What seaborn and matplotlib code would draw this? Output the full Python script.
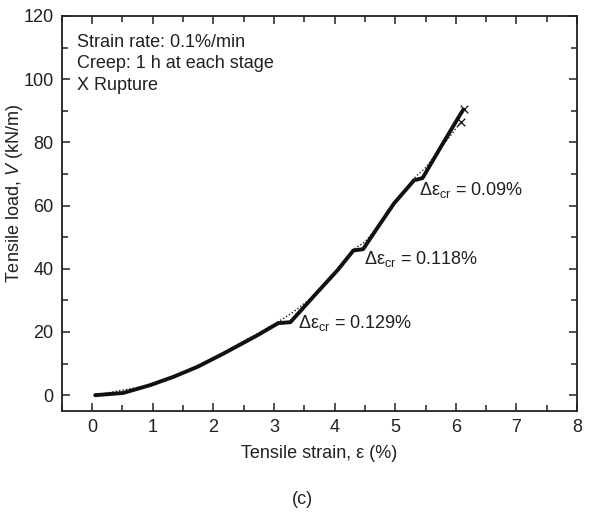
import matplotlib
matplotlib.use("Agg")
import matplotlib.pyplot as plt
import seaborn as sns
import pandas as pd

# Test with creep stages (solid)
strain_a = [0.05, 0.51, 0.96, 1.34, 1.74, 2.17, 2.73, 3.07, 3.27, 3.65, 4.05, 4.31,
            4.47, 4.76, 4.98, 5.31, 5.45, 5.75, 6.03, 6.12]
load_a = [0.0, 0.7, 3.2, 5.8, 9.0, 13.2, 19.0, 22.8, 23.1, 31.2, 39.6, 45.8,
          46.2, 54.5, 60.7, 68.0, 68.7, 78.5, 87.5, 90.3]
# Companion test (dotted)
strain_b = [0.05, 0.96, 1.74, 2.73, 3.0, 3.15, 3.31, 3.7, 4.1, 4.3, 4.5, 4.8, 5.3,
            5.5, 5.8, 5.89, 6.08]
load_b = [0.0, 3.2, 9.0, 19.5, 22.5, 24.2, 26.2, 32.0, 40.8, 46.0, 48.5, 55.5,
          68.5, 72.0, 79.5, 81.6, 86.4]
# Rupture points
rupture_strain = [6.13, 6.08]
rupture_load = [90.5, 86.4]
# Creep annotations
creep_labels = ["0.129%", "0.118%", "0.09%"]
creep_x = [3.39, 4.48, 5.40]
creep_y = [22.8, 43.0, 64.9]

sns.set_theme(style="ticks")
plt.rcParams["font.family"] = ["Liberation Sans", "DejaVu Sans"]
plt.rcParams["mathtext.fontset"] = "custom"
plt.rcParams["mathtext.rm"] = "Liberation Sans"
plt.rcParams["mathtext.it"] = "Liberation Sans:italic"
ink = "#231f20"
fs = 13

fig = plt.figure(figsize=(6.12, 5.16), dpi=100)
ax = fig.add_axes([0.101, 0.2035, 0.842, 0.7655])

df_a = pd.DataFrame({"strain": strain_a, "load": load_a})
df_b = pd.DataFrame({"strain": strain_b, "load": load_b})
sns.lineplot(data=df_b, x="strain", y="load", ax=ax, color=ink, lw=1.0,
             linestyle=(0, (1, 1.5)), sort=False, estimator=None)
sns.lineplot(data=df_a, x="strain", y="load", ax=ax, color="#111111", lw=2.8,
             sort=False, estimator=None)
df_r = pd.DataFrame({"strain": rupture_strain, "load": rupture_load})
sns.scatterplot(data=df_r, x="strain", y="load", ax=ax, marker="x", color=ink,
                s=30, linewidth=1.0)

for lab, xx, yy in zip(creep_labels, creep_x, creep_y):
    ax.text(xx, yy, "Δε$_{\\mathrm{cr}}$ = " + lab, ha="left", va="center",
            fontsize=fs, color=ink)

for txt, yy in zip(["Strain rate: 0.1%/min", "Creep: 1 h at each stage", "X Rupture"],
                   [0.934, 0.881, 0.823]):
    ax.text(0.029, yy, txt, transform=ax.transAxes, ha="left", va="center",
            fontsize=fs, color=ink)

ax.set_xlim(-0.5, 8)
ax.set_ylim(-5, 120)
ax.set_xticks(range(0, 9))
ax.set_yticks(range(0, 121, 20))
ax.set_xticks([i + 0.5 for i in range(-1, 8)], minor=True)
ax.set_yticks(range(10, 120, 20), minor=True)
ax.tick_params(which="both", direction="in", top=True, right=True, colors=ink,
               labelsize=fs, width=1.1)
ax.tick_params(which="major", length=6, pad=6)
ax.tick_params(which="minor", length=4)
for s in ax.spines.values():
    s.set_linewidth(1.3)
    s.set_color(ink)
ax.set_xlabel("Tensile strain, ε (%)", fontsize=fs, color=ink, labelpad=6)
ax.set_ylabel("Tensile load, $V$ (kN/m)", fontsize=fs, color=ink)
ax.yaxis.set_label_coords(-0.072, 0.55)

fig.text(302 / 612, 1 - 500 / 516, "(c)", ha="center", va="center",
         fontsize=fs, color=ink)

fig.savefig("out.png", dpi=100)
